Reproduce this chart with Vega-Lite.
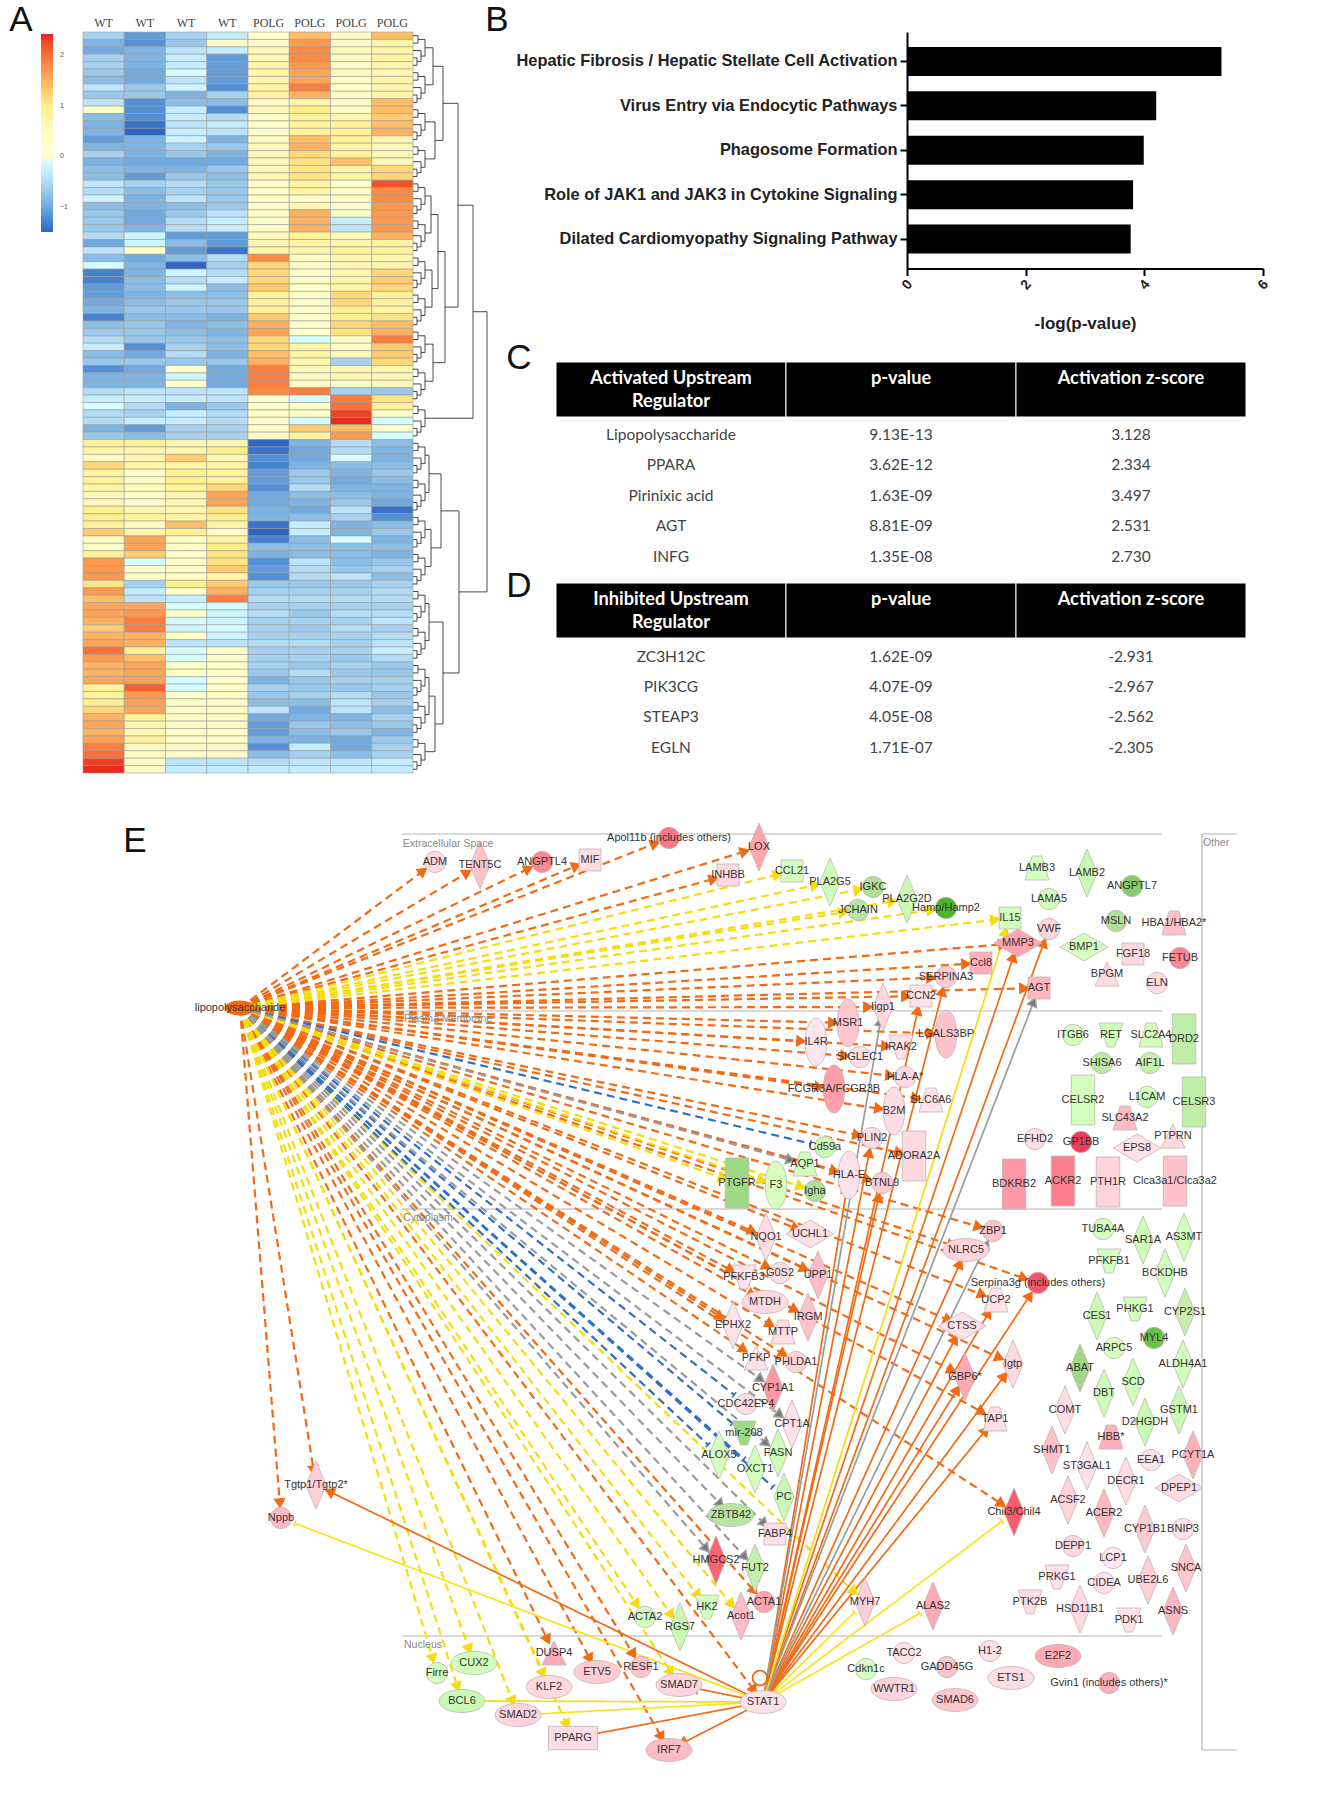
{"$schema":"https://vega.github.io/schema/vega-lite/v6.json","width":1328,"height":1800,"padding":0,"autosize":{"type":"none"},"background":"white","config":{"view":{"stroke":null},"axis":{"grid":false},"font":"Liberation Sans"},
"datasets":{
"heat":[
{"r":1,"c":1,"v":-0.6},{"r":1,"c":2,"v":-1.1},{"r":1,"c":3,"v":-0.6},{"r":1,"c":4,"v":-0.3},{"r":1,"c":5,"v":0.1},{"r":1,"c":6,"v":1.4},{"r":1,"c":7,"v":0.5},{"r":1,"c":8,"v":1.4},
{"r":2,"c":1,"v":-0.9},{"r":2,"c":2,"v":-1.2},{"r":2,"c":3,"v":-0.7},{"r":2,"c":4,"v":0.0},{"r":2,"c":5,"v":0.3},{"r":2,"c":6,"v":1.7},{"r":2,"c":7,"v":0.5},{"r":2,"c":8,"v":0.8},
{"r":3,"c":1,"v":-1.0},{"r":3,"c":2,"v":-0.9},{"r":3,"c":3,"v":-0.4},{"r":3,"c":4,"v":-0.3},{"r":3,"c":5,"v":0.6},{"r":3,"c":6,"v":1.8},{"r":3,"c":7,"v":0.6},{"r":3,"c":8,"v":0.8},
{"r":4,"c":1,"v":-0.6},{"r":4,"c":2,"v":-0.9},{"r":4,"c":3,"v":-0.3},{"r":4,"c":4,"v":-1.1},{"r":4,"c":5,"v":0.7},{"r":4,"c":6,"v":1.8},{"r":4,"c":7,"v":0.5},{"r":4,"c":8,"v":0.8},
{"r":5,"c":1,"v":-0.6},{"r":5,"c":2,"v":-0.9},{"r":5,"c":3,"v":-0.3},{"r":5,"c":4,"v":-1.1},{"r":5,"c":5,"v":0.7},{"r":5,"c":6,"v":1.7},{"r":5,"c":7,"v":0.5},{"r":5,"c":8,"v":0.7},
{"r":6,"c":1,"v":-0.7},{"r":6,"c":2,"v":-1.0},{"r":6,"c":3,"v":-0.1},{"r":6,"c":4,"v":-1.1},{"r":6,"c":5,"v":0.8},{"r":6,"c":6,"v":1.6},{"r":6,"c":7,"v":0.6},{"r":6,"c":8,"v":0.7},
{"r":7,"c":1,"v":-0.8},{"r":7,"c":2,"v":-1.0},{"r":7,"c":3,"v":-0.4},{"r":7,"c":4,"v":-1.1},{"r":7,"c":5,"v":0.7},{"r":7,"c":6,"v":1.6},{"r":7,"c":7,"v":0.5},{"r":7,"c":8,"v":0.8},
{"r":8,"c":1,"v":-0.4},{"r":8,"c":2,"v":-0.7},{"r":8,"c":3,"v":-0.2},{"r":8,"c":4,"v":-1.2},{"r":8,"c":5,"v":0.8},{"r":8,"c":6,"v":1.9},{"r":8,"c":7,"v":0.1},{"r":8,"c":8,"v":0.7},
{"r":9,"c":1,"v":-0.7},{"r":9,"c":2,"v":-0.7},{"r":9,"c":3,"v":-0.9},{"r":9,"c":4,"v":-0.6},{"r":9,"c":5,"v":0.9},{"r":9,"c":6,"v":1.5},{"r":9,"c":7,"v":0.3},{"r":9,"c":8,"v":0.8},
{"r":10,"c":1,"v":-0.4},{"r":10,"c":2,"v":-1.2},{"r":10,"c":3,"v":-0.8},{"r":10,"c":4,"v":-0.8},{"r":10,"c":5,"v":0.5},{"r":10,"c":6,"v":0.8},{"r":10,"c":7,"v":0.5},{"r":10,"c":8,"v":1.4},
{"r":11,"c":1,"v":0.0},{"r":11,"c":2,"v":-1.2},{"r":11,"c":3,"v":-0.3},{"r":11,"c":4,"v":-1.2},{"r":11,"c":5,"v":0.6},{"r":11,"c":6,"v":1.0},{"r":11,"c":7,"v":0.5},{"r":11,"c":8,"v":1.4},
{"r":12,"c":1,"v":-0.8},{"r":12,"c":2,"v":-1.2},{"r":12,"c":3,"v":-0.3},{"r":12,"c":4,"v":-0.5},{"r":12,"c":5,"v":0.2},{"r":12,"c":6,"v":0.9},{"r":12,"c":7,"v":0.7},{"r":12,"c":8,"v":1.3},
{"r":13,"c":1,"v":-0.9},{"r":13,"c":2,"v":-1.4},{"r":13,"c":3,"v":-0.4},{"r":13,"c":4,"v":-0.3},{"r":13,"c":5,"v":0.1},{"r":13,"c":6,"v":0.9},{"r":13,"c":7,"v":0.9},{"r":13,"c":8,"v":1.4},
{"r":14,"c":1,"v":-0.9},{"r":14,"c":2,"v":-1.5},{"r":14,"c":3,"v":-0.3},{"r":14,"c":4,"v":-0.4},{"r":14,"c":5,"v":0.3},{"r":14,"c":6,"v":0.9},{"r":14,"c":7,"v":0.9},{"r":14,"c":8,"v":1.5},
{"r":15,"c":1,"v":-1.1},{"r":15,"c":2,"v":-0.9},{"r":15,"c":3,"v":-0.2},{"r":15,"c":4,"v":-0.9},{"r":15,"c":5,"v":0.5},{"r":15,"c":6,"v":1.4},{"r":15,"c":7,"v":0.9},{"r":15,"c":8,"v":0.7},
{"r":16,"c":1,"v":-0.9},{"r":16,"c":2,"v":-0.9},{"r":16,"c":3,"v":-0.6},{"r":16,"c":4,"v":-0.7},{"r":16,"c":5,"v":0.6},{"r":16,"c":6,"v":1.5},{"r":16,"c":7,"v":0.8},{"r":16,"c":8,"v":0.6},
{"r":17,"c":1,"v":-0.6},{"r":17,"c":2,"v":-0.9},{"r":17,"c":3,"v":-0.7},{"r":17,"c":4,"v":-0.9},{"r":17,"c":5,"v":0.6},{"r":17,"c":6,"v":1.2},{"r":17,"c":7,"v":0.9},{"r":17,"c":8,"v":0.6},
{"r":18,"c":1,"v":-0.9},{"r":18,"c":2,"v":-1.0},{"r":18,"c":3,"v":-1.0},{"r":18,"c":4,"v":-1.0},{"r":18,"c":5,"v":0.6},{"r":18,"c":6,"v":1.1},{"r":18,"c":7,"v":1.4},{"r":18,"c":8,"v":0.6},
{"r":19,"c":1,"v":-0.8},{"r":19,"c":2,"v":-0.9},{"r":19,"c":3,"v":-0.9},{"r":19,"c":4,"v":-0.7},{"r":19,"c":5,"v":0.6},{"r":19,"c":6,"v":1.1},{"r":19,"c":7,"v":0.8},{"r":19,"c":8,"v":1.2},
{"r":20,"c":1,"v":-0.8},{"r":20,"c":2,"v":-1.1},{"r":20,"c":3,"v":-0.7},{"r":20,"c":4,"v":-0.8},{"r":20,"c":5,"v":0.7},{"r":20,"c":6,"v":1.1},{"r":20,"c":7,"v":0.8},{"r":20,"c":8,"v":1.2},
{"r":21,"c":1,"v":-0.4},{"r":21,"c":2,"v":-0.6},{"r":21,"c":3,"v":-0.5},{"r":21,"c":4,"v":-0.7},{"r":21,"c":5,"v":0.2},{"r":21,"c":6,"v":0.8},{"r":21,"c":7,"v":0.1},{"r":21,"c":8,"v":2.2},
{"r":22,"c":1,"v":-0.5},{"r":22,"c":2,"v":-0.8},{"r":22,"c":3,"v":-0.6},{"r":22,"c":4,"v":-0.7},{"r":22,"c":5,"v":0.3},{"r":22,"c":6,"v":0.8},{"r":22,"c":7,"v":0.3},{"r":22,"c":8,"v":1.8},
{"r":23,"c":1,"v":-0.2},{"r":23,"c":2,"v":-0.9},{"r":23,"c":3,"v":-0.4},{"r":23,"c":4,"v":-0.7},{"r":23,"c":5,"v":0.4},{"r":23,"c":6,"v":0.5},{"r":23,"c":7,"v":0.3},{"r":23,"c":8,"v":1.8},
{"r":24,"c":1,"v":-0.8},{"r":24,"c":2,"v":-0.9},{"r":24,"c":3,"v":-0.8},{"r":24,"c":4,"v":-0.7},{"r":24,"c":5,"v":0.4},{"r":24,"c":6,"v":0.7},{"r":24,"c":7,"v":0.3},{"r":24,"c":8,"v":1.7},
{"r":25,"c":1,"v":-0.7},{"r":25,"c":2,"v":-1.0},{"r":25,"c":3,"v":-0.7},{"r":25,"c":4,"v":-0.4},{"r":25,"c":5,"v":0.1},{"r":25,"c":6,"v":1.5},{"r":25,"c":7,"v":0.1},{"r":25,"c":8,"v":1.7},
{"r":26,"c":1,"v":-0.7},{"r":26,"c":2,"v":-1.0},{"r":26,"c":3,"v":-0.5},{"r":26,"c":4,"v":-0.3},{"r":26,"c":5,"v":0.2},{"r":26,"c":6,"v":1.5},{"r":26,"c":7,"v":-0.3},{"r":26,"c":8,"v":1.7},
{"r":27,"c":1,"v":-0.7},{"r":27,"c":2,"v":-0.9},{"r":27,"c":3,"v":-0.5},{"r":27,"c":4,"v":-0.3},{"r":27,"c":5,"v":0.3},{"r":27,"c":6,"v":1.5},{"r":27,"c":7,"v":-0.4},{"r":27,"c":8,"v":1.7},
{"r":28,"c":1,"v":-0.5},{"r":28,"c":2,"v":-0.2},{"r":28,"c":3,"v":-1.1},{"r":28,"c":4,"v":-1.1},{"r":28,"c":5,"v":0.6},{"r":28,"c":6,"v":0.9},{"r":28,"c":7,"v":0.6},{"r":28,"c":8,"v":1.5},
{"r":29,"c":1,"v":-1.0},{"r":29,"c":2,"v":-0.2},{"r":29,"c":3,"v":-0.8},{"r":29,"c":4,"v":-1.1},{"r":29,"c":5,"v":0.7},{"r":29,"c":6,"v":0.8},{"r":29,"c":7,"v":0.7},{"r":29,"c":8,"v":0.8},
{"r":30,"c":1,"v":-0.4},{"r":30,"c":2,"v":0.0},{"r":30,"c":3,"v":-1.1},{"r":30,"c":4,"v":-1.4},{"r":30,"c":5,"v":0.8},{"r":30,"c":6,"v":0.7},{"r":30,"c":7,"v":0.9},{"r":30,"c":8,"v":0.9},
{"r":31,"c":1,"v":-0.8},{"r":31,"c":2,"v":-1.0},{"r":31,"c":3,"v":-0.8},{"r":31,"c":4,"v":-0.5},{"r":31,"c":5,"v":1.8},{"r":31,"c":6,"v":0.4},{"r":31,"c":7,"v":0.7},{"r":31,"c":8,"v":0.7},
{"r":32,"c":1,"v":-0.1},{"r":32,"c":2,"v":-0.9},{"r":32,"c":3,"v":-1.5},{"r":32,"c":4,"v":-0.6},{"r":32,"c":5,"v":1.2},{"r":32,"c":6,"v":0.5},{"r":32,"c":7,"v":0.7},{"r":32,"c":8,"v":0.7},
{"r":33,"c":1,"v":-1.3},{"r":33,"c":2,"v":-0.9},{"r":33,"c":3,"v":-0.2},{"r":33,"c":4,"v":-0.5},{"r":33,"c":5,"v":1.2},{"r":33,"c":6,"v":0.5},{"r":33,"c":7,"v":0.7},{"r":33,"c":8,"v":1.2},
{"r":34,"c":1,"v":-1.3},{"r":34,"c":2,"v":-0.8},{"r":34,"c":3,"v":-0.5},{"r":34,"c":4,"v":-0.3},{"r":34,"c":5,"v":1.2},{"r":34,"c":6,"v":0.4},{"r":34,"c":7,"v":0.8},{"r":34,"c":8,"v":1.3},
{"r":35,"c":1,"v":-1.1},{"r":35,"c":2,"v":-0.8},{"r":35,"c":3,"v":-0.2},{"r":35,"c":4,"v":-0.8},{"r":35,"c":5,"v":1.3},{"r":35,"c":6,"v":0.1},{"r":35,"c":7,"v":0.8},{"r":35,"c":8,"v":1.2},
{"r":36,"c":1,"v":-1.1},{"r":36,"c":2,"v":-0.9},{"r":36,"c":3,"v":-0.8},{"r":36,"c":4,"v":-0.8},{"r":36,"c":5,"v":0.9},{"r":36,"c":6,"v":0.2},{"r":36,"c":7,"v":1.2},{"r":36,"c":8,"v":0.9},
{"r":37,"c":1,"v":-1.0},{"r":37,"c":2,"v":-0.8},{"r":37,"c":3,"v":-0.7},{"r":37,"c":4,"v":-0.7},{"r":37,"c":5,"v":0.9},{"r":37,"c":6,"v":0.3},{"r":37,"c":7,"v":1.2},{"r":37,"c":8,"v":0.9},
{"r":38,"c":1,"v":-0.9},{"r":38,"c":2,"v":-0.7},{"r":38,"c":3,"v":-0.7},{"r":38,"c":4,"v":-0.7},{"r":38,"c":5,"v":0.9},{"r":38,"c":6,"v":0.3},{"r":38,"c":7,"v":1.0},{"r":38,"c":8,"v":0.8},
{"r":39,"c":1,"v":-1.3},{"r":39,"c":2,"v":-0.8},{"r":39,"c":3,"v":-0.8},{"r":39,"c":4,"v":-0.9},{"r":39,"c":5,"v":1.3},{"r":39,"c":6,"v":0.1},{"r":39,"c":7,"v":1.0},{"r":39,"c":8,"v":1.1},
{"r":40,"c":1,"v":-0.8},{"r":40,"c":2,"v":-0.7},{"r":40,"c":3,"v":-0.9},{"r":40,"c":4,"v":-0.8},{"r":40,"c":5,"v":1.5},{"r":40,"c":6,"v":0.2},{"r":40,"c":7,"v":1.2},{"r":40,"c":8,"v":1.4},
{"r":41,"c":1,"v":-0.7},{"r":41,"c":2,"v":-0.7},{"r":41,"c":3,"v":-0.8},{"r":41,"c":4,"v":-0.9},{"r":41,"c":5,"v":1.6},{"r":41,"c":6,"v":0.1},{"r":41,"c":7,"v":1.1},{"r":41,"c":8,"v":1.5},
{"r":42,"c":1,"v":-0.5},{"r":42,"c":2,"v":-0.7},{"r":42,"c":3,"v":-0.7},{"r":42,"c":4,"v":-0.8},{"r":42,"c":5,"v":1.2},{"r":42,"c":6,"v":-0.1},{"r":42,"c":7,"v":0.3},{"r":42,"c":8,"v":1.9},
{"r":43,"c":1,"v":-0.3},{"r":43,"c":2,"v":-1.2},{"r":43,"c":3,"v":-0.6},{"r":43,"c":4,"v":-0.8},{"r":43,"c":5,"v":1.2},{"r":43,"c":6,"v":0.8},{"r":43,"c":7,"v":0.2},{"r":43,"c":8,"v":1.3},
{"r":44,"c":1,"v":-0.8},{"r":44,"c":2,"v":-1.0},{"r":44,"c":3,"v":-0.5},{"r":44,"c":4,"v":-0.9},{"r":44,"c":5,"v":1.4},{"r":44,"c":6,"v":0.8},{"r":44,"c":7,"v":0.6},{"r":44,"c":8,"v":1.3},
{"r":45,"c":1,"v":-0.7},{"r":45,"c":2,"v":-0.7},{"r":45,"c":3,"v":-0.7},{"r":45,"c":4,"v":-0.7},{"r":45,"c":5,"v":1.5},{"r":45,"c":6,"v":0.7},{"r":45,"c":7,"v":-0.6},{"r":45,"c":8,"v":1.2},
{"r":46,"c":1,"v":-1.2},{"r":46,"c":2,"v":-1.0},{"r":46,"c":3,"v":0.0},{"r":46,"c":4,"v":-1.0},{"r":46,"c":5,"v":1.9},{"r":46,"c":6,"v":0.6},{"r":46,"c":7,"v":0.7},{"r":46,"c":8,"v":0.7},
{"r":47,"c":1,"v":-0.9},{"r":47,"c":2,"v":-0.9},{"r":47,"c":3,"v":-0.2},{"r":47,"c":4,"v":-1.0},{"r":47,"c":5,"v":1.9},{"r":47,"c":6,"v":0.5},{"r":47,"c":7,"v":0.7},{"r":47,"c":8,"v":0.7},
{"r":48,"c":1,"v":-0.9},{"r":48,"c":2,"v":-0.9},{"r":48,"c":3,"v":0.0},{"r":48,"c":4,"v":-1.0},{"r":48,"c":5,"v":1.9},{"r":48,"c":6,"v":0.4},{"r":48,"c":7,"v":0.5},{"r":48,"c":8,"v":0.6},
{"r":49,"c":1,"v":-0.5},{"r":49,"c":2,"v":-0.4},{"r":49,"c":3,"v":-0.4},{"r":49,"c":4,"v":-0.4},{"r":49,"c":5,"v":1.8},{"r":49,"c":6,"v":1.9},{"r":49,"c":7,"v":-0.6},{"r":49,"c":8,"v":-0.7},
{"r":50,"c":1,"v":-0.3},{"r":50,"c":2,"v":-0.3},{"r":50,"c":3,"v":-0.3},{"r":50,"c":4,"v":-0.4},{"r":50,"c":5,"v":0.0},{"r":50,"c":6,"v":-0.1},{"r":50,"c":7,"v":1.9},{"r":50,"c":8,"v":1.1},
{"r":51,"c":1,"v":-0.1},{"r":51,"c":2,"v":-0.5},{"r":51,"c":3,"v":-0.9},{"r":51,"c":4,"v":-0.7},{"r":51,"c":5,"v":0.0},{"r":51,"c":6,"v":0.3},{"r":51,"c":7,"v":2.0},{"r":51,"c":8,"v":0.9},
{"r":52,"c":1,"v":-0.5},{"r":52,"c":2,"v":-0.6},{"r":52,"c":3,"v":-0.3},{"r":52,"c":4,"v":-0.5},{"r":52,"c":5,"v":0.3},{"r":52,"c":6,"v":0.0},{"r":52,"c":7,"v":2.3},{"r":52,"c":8,"v":0.0},
{"r":53,"c":1,"v":-0.5},{"r":53,"c":2,"v":-0.3},{"r":53,"c":3,"v":-0.3},{"r":53,"c":4,"v":-0.5},{"r":53,"c":5,"v":0.3},{"r":53,"c":6,"v":-0.1},{"r":53,"c":7,"v":2.4},{"r":53,"c":8,"v":-0.1},
{"r":54,"c":1,"v":-0.9},{"r":54,"c":2,"v":-1.1},{"r":54,"c":3,"v":-0.6},{"r":54,"c":4,"v":-0.6},{"r":54,"c":5,"v":0.5},{"r":54,"c":6,"v":1.3},{"r":54,"c":7,"v":1.4},{"r":54,"c":8,"v":0.0},
{"r":55,"c":1,"v":-0.7},{"r":55,"c":2,"v":-0.8},{"r":55,"c":3,"v":-0.6},{"r":55,"c":4,"v":-0.6},{"r":55,"c":5,"v":0.3},{"r":55,"c":6,"v":0.9},{"r":55,"c":7,"v":1.7},{"r":55,"c":8,"v":-0.1},
{"r":56,"c":1,"v":0.9},{"r":56,"c":2,"v":0.9},{"r":56,"c":3,"v":0.7},{"r":56,"c":4,"v":0.7},{"r":56,"c":5,"v":-1.5},{"r":56,"c":6,"v":-0.9},{"r":56,"c":7,"v":-0.5},{"r":56,"c":8,"v":-0.8},
{"r":57,"c":1,"v":0.8},{"r":57,"c":2,"v":0.7},{"r":57,"c":3,"v":0.7},{"r":57,"c":4,"v":1.0},{"r":57,"c":5,"v":-1.4},{"r":57,"c":6,"v":-1.0},{"r":57,"c":7,"v":-0.5},{"r":57,"c":8,"v":-0.9},
{"r":58,"c":1,"v":0.5},{"r":58,"c":2,"v":0.7},{"r":58,"c":3,"v":1.3},{"r":58,"c":4,"v":0.7},{"r":58,"c":5,"v":-1.2},{"r":58,"c":6,"v":-1.0},{"r":58,"c":7,"v":-0.1},{"r":58,"c":8,"v":-0.9},
{"r":59,"c":1,"v":1.2},{"r":59,"c":2,"v":0.8},{"r":59,"c":3,"v":0.8},{"r":59,"c":4,"v":0.8},{"r":59,"c":5,"v":-1.3},{"r":59,"c":6,"v":-0.9},{"r":59,"c":7,"v":-0.8},{"r":59,"c":8,"v":-0.8},
{"r":60,"c":1,"v":0.9},{"r":60,"c":2,"v":0.5},{"r":60,"c":3,"v":1.0},{"r":60,"c":4,"v":0.9},{"r":60,"c":5,"v":-1.1},{"r":60,"c":6,"v":-0.7},{"r":60,"c":7,"v":-0.9},{"r":60,"c":8,"v":-0.7},
{"r":61,"c":1,"v":0.9},{"r":61,"c":2,"v":0.5},{"r":61,"c":3,"v":1.0},{"r":61,"c":4,"v":0.9},{"r":61,"c":5,"v":-1.1},{"r":61,"c":6,"v":-0.7},{"r":61,"c":7,"v":-1.0},{"r":61,"c":8,"v":-0.8},
{"r":62,"c":1,"v":0.8},{"r":62,"c":2,"v":0.6},{"r":62,"c":3,"v":0.9},{"r":62,"c":4,"v":1.2},{"r":62,"c":5,"v":-1.2},{"r":62,"c":6,"v":-0.5},{"r":62,"c":7,"v":-0.9},{"r":62,"c":8,"v":-0.9},
{"r":63,"c":1,"v":0.6},{"r":63,"c":2,"v":0.4},{"r":63,"c":3,"v":0.7},{"r":63,"c":4,"v":1.6},{"r":63,"c":5,"v":-1.0},{"r":63,"c":6,"v":-0.8},{"r":63,"c":7,"v":-0.8},{"r":63,"c":8,"v":-0.9},
{"r":64,"c":1,"v":0.6},{"r":64,"c":2,"v":0.4},{"r":64,"c":3,"v":0.7},{"r":64,"c":4,"v":1.6},{"r":64,"c":5,"v":-1.0},{"r":64,"c":6,"v":-0.9},{"r":64,"c":7,"v":-0.7},{"r":64,"c":8,"v":-1.0},
{"r":65,"c":1,"v":1.0},{"r":65,"c":2,"v":0.7},{"r":65,"c":3,"v":0.7},{"r":65,"c":4,"v":1.1},{"r":65,"c":5,"v":-0.9},{"r":65,"c":6,"v":-1.0},{"r":65,"c":7,"v":-0.4},{"r":65,"c":8,"v":-1.4},
{"r":66,"c":1,"v":1.0},{"r":66,"c":2,"v":0.9},{"r":66,"c":3,"v":0.8},{"r":66,"c":4,"v":1.0},{"r":66,"c":5,"v":-0.9},{"r":66,"c":6,"v":-0.8},{"r":66,"c":7,"v":-0.6},{"r":66,"c":8,"v":-1.2},
{"r":67,"c":1,"v":0.9},{"r":67,"c":2,"v":0.5},{"r":67,"c":3,"v":1.4},{"r":67,"c":4,"v":0.8},{"r":67,"c":5,"v":-1.4},{"r":67,"c":6,"v":-0.3},{"r":67,"c":7,"v":-0.9},{"r":67,"c":8,"v":-0.8},
{"r":68,"c":1,"v":1.3},{"r":68,"c":2,"v":0.8},{"r":68,"c":3,"v":1.0},{"r":68,"c":4,"v":0.5},{"r":68,"c":5,"v":-1.5},{"r":68,"c":6,"v":-0.3},{"r":68,"c":7,"v":-0.9},{"r":68,"c":8,"v":-0.7},
{"r":69,"c":1,"v":0.3},{"r":69,"c":2,"v":1.6},{"r":69,"c":3,"v":0.0},{"r":69,"c":4,"v":0.8},{"r":69,"c":5,"v":-1.3},{"r":69,"c":6,"v":-0.8},{"r":69,"c":7,"v":-0.1},{"r":69,"c":8,"v":-0.9},
{"r":70,"c":1,"v":0.2},{"r":70,"c":2,"v":1.6},{"r":70,"c":3,"v":0.2},{"r":70,"c":4,"v":1.0},{"r":70,"c":5,"v":-0.8},{"r":70,"c":6,"v":-0.8},{"r":70,"c":7,"v":-0.8},{"r":70,"c":8,"v":-0.8},
{"r":71,"c":1,"v":0.9},{"r":71,"c":2,"v":1.3},{"r":71,"c":3,"v":0.1},{"r":71,"c":4,"v":1.1},{"r":71,"c":5,"v":-0.9},{"r":71,"c":6,"v":-0.8},{"r":71,"c":7,"v":-0.8},{"r":71,"c":8,"v":-0.9},
{"r":72,"c":1,"v":1.7},{"r":72,"c":2,"v":-0.1},{"r":72,"c":3,"v":0.3},{"r":72,"c":4,"v":1.1},{"r":72,"c":5,"v":-1.2},{"r":72,"c":6,"v":-0.4},{"r":72,"c":7,"v":-0.8},{"r":72,"c":8,"v":-0.7},
{"r":73,"c":1,"v":1.7},{"r":73,"c":2,"v":0.1},{"r":73,"c":3,"v":0.3},{"r":73,"c":4,"v":1.3},{"r":73,"c":5,"v":-1.1},{"r":73,"c":6,"v":-0.5},{"r":73,"c":7,"v":-0.7},{"r":73,"c":8,"v":-0.6},
{"r":74,"c":1,"v":1.7},{"r":74,"c":2,"v":0.2},{"r":74,"c":3,"v":0.3},{"r":74,"c":4,"v":0.8},{"r":74,"c":5,"v":-1.2},{"r":74,"c":6,"v":-0.5},{"r":74,"c":7,"v":-0.4},{"r":74,"c":8,"v":-0.8},
{"r":75,"c":1,"v":1.1},{"r":75,"c":2,"v":-0.6},{"r":75,"c":3,"v":1.0},{"r":75,"c":4,"v":1.3},{"r":75,"c":5,"v":-0.7},{"r":75,"c":6,"v":-0.7},{"r":75,"c":7,"v":-0.7},{"r":75,"c":8,"v":-0.6},
{"r":76,"c":1,"v":1.7},{"r":76,"c":2,"v":-0.3},{"r":76,"c":3,"v":0.0},{"r":76,"c":4,"v":1.5},{"r":76,"c":5,"v":-0.6},{"r":76,"c":6,"v":-0.6},{"r":76,"c":7,"v":-0.6},{"r":76,"c":8,"v":-0.5},
{"r":77,"c":1,"v":1.4},{"r":77,"c":2,"v":-0.4},{"r":77,"c":3,"v":-0.3},{"r":77,"c":4,"v":1.9},{"r":77,"c":5,"v":-0.5},{"r":77,"c":6,"v":-0.5},{"r":77,"c":7,"v":-0.5},{"r":77,"c":8,"v":-0.5},
{"r":78,"c":1,"v":1.6},{"r":78,"c":2,"v":1.6},{"r":78,"c":3,"v":-0.1},{"r":78,"c":4,"v":-0.1},{"r":78,"c":5,"v":-0.6},{"r":78,"c":6,"v":-0.6},{"r":78,"c":7,"v":-0.6},{"r":78,"c":8,"v":-0.6},
{"r":79,"c":1,"v":1.6},{"r":79,"c":2,"v":1.7},{"r":79,"c":3,"v":0.0},{"r":79,"c":4,"v":-0.2},{"r":79,"c":5,"v":-0.5},{"r":79,"c":6,"v":-0.7},{"r":79,"c":7,"v":-0.5},{"r":79,"c":8,"v":-0.5},
{"r":80,"c":1,"v":1.5},{"r":80,"c":2,"v":1.9},{"r":80,"c":3,"v":-0.1},{"r":80,"c":4,"v":-0.2},{"r":80,"c":5,"v":-0.6},{"r":80,"c":6,"v":-0.6},{"r":80,"c":7,"v":-0.6},{"r":80,"c":8,"v":-0.4},
{"r":81,"c":1,"v":1.3},{"r":81,"c":2,"v":1.9},{"r":81,"c":3,"v":-0.2},{"r":81,"c":4,"v":-0.1},{"r":81,"c":5,"v":-0.6},{"r":81,"c":6,"v":-0.7},{"r":81,"c":7,"v":-0.5},{"r":81,"c":8,"v":-0.6},
{"r":82,"c":1,"v":1.5},{"r":82,"c":2,"v":1.5},{"r":82,"c":3,"v":0.2},{"r":82,"c":4,"v":-0.2},{"r":82,"c":5,"v":-0.6},{"r":82,"c":6,"v":-0.6},{"r":82,"c":7,"v":-0.6},{"r":82,"c":8,"v":-0.5},
{"r":83,"c":1,"v":1.6},{"r":83,"c":2,"v":1.5},{"r":83,"c":3,"v":-0.4},{"r":83,"c":4,"v":-0.4},{"r":83,"c":5,"v":-0.5},{"r":83,"c":6,"v":-0.5},{"r":83,"c":7,"v":-0.6},{"r":83,"c":8,"v":-0.4},
{"r":84,"c":1,"v":2.0},{"r":84,"c":2,"v":0.9},{"r":84,"c":3,"v":-0.1},{"r":84,"c":4,"v":0.0},{"r":84,"c":5,"v":-0.6},{"r":84,"c":6,"v":-0.6},{"r":84,"c":7,"v":-0.6},{"r":84,"c":8,"v":-0.3},
{"r":85,"c":1,"v":1.7},{"r":85,"c":2,"v":1.4},{"r":85,"c":3,"v":-0.1},{"r":85,"c":4,"v":0.0},{"r":85,"c":5,"v":-0.6},{"r":85,"c":6,"v":-0.6},{"r":85,"c":7,"v":-0.7},{"r":85,"c":8,"v":-0.5},
{"r":86,"c":1,"v":1.5},{"r":86,"c":2,"v":1.6},{"r":86,"c":3,"v":0.0},{"r":86,"c":4,"v":0.0},{"r":86,"c":5,"v":-0.6},{"r":86,"c":6,"v":-0.7},{"r":86,"c":7,"v":-0.6},{"r":86,"c":8,"v":-0.7},
{"r":87,"c":1,"v":1.5},{"r":87,"c":2,"v":1.6},{"r":87,"c":3,"v":0.0},{"r":87,"c":4,"v":0.0},{"r":87,"c":5,"v":-0.7},{"r":87,"c":6,"v":-0.5},{"r":87,"c":7,"v":-0.7},{"r":87,"c":8,"v":-0.7},
{"r":88,"c":1,"v":1.6},{"r":88,"c":2,"v":1.6},{"r":88,"c":3,"v":-0.1},{"r":88,"c":4,"v":0.0},{"r":88,"c":5,"v":-0.9},{"r":88,"c":6,"v":-0.7},{"r":88,"c":7,"v":-0.6},{"r":88,"c":8,"v":-0.6},
{"r":89,"c":1,"v":0.9},{"r":89,"c":2,"v":2.1},{"r":89,"c":3,"v":-0.1},{"r":89,"c":4,"v":0.0},{"r":89,"c":5,"v":-0.6},{"r":89,"c":6,"v":-0.7},{"r":89,"c":7,"v":-0.7},{"r":89,"c":8,"v":-0.6},
{"r":90,"c":1,"v":0.9},{"r":90,"c":2,"v":1.7},{"r":90,"c":3,"v":0.1},{"r":90,"c":4,"v":0.5},{"r":90,"c":5,"v":-0.7},{"r":90,"c":6,"v":-0.6},{"r":90,"c":7,"v":-0.5},{"r":90,"c":8,"v":-0.7},
{"r":91,"c":1,"v":1.0},{"r":91,"c":2,"v":1.6},{"r":91,"c":3,"v":0.0},{"r":91,"c":4,"v":0.5},{"r":91,"c":5,"v":-0.8},{"r":91,"c":6,"v":-0.8},{"r":91,"c":7,"v":-0.4},{"r":91,"c":8,"v":-0.6},
{"r":92,"c":1,"v":1.2},{"r":92,"c":2,"v":1.6},{"r":92,"c":3,"v":0.0},{"r":92,"c":4,"v":0.4},{"r":92,"c":5,"v":-0.4},{"r":92,"c":6,"v":-1.0},{"r":92,"c":7,"v":-0.4},{"r":92,"c":8,"v":-0.8},
{"r":93,"c":1,"v":1.5},{"r":93,"c":2,"v":0.9},{"r":93,"c":3,"v":0.3},{"r":93,"c":4,"v":0.5},{"r":93,"c":5,"v":-1.0},{"r":93,"c":6,"v":-0.9},{"r":93,"c":7,"v":-0.9},{"r":93,"c":8,"v":-0.6},
{"r":94,"c":1,"v":1.6},{"r":94,"c":2,"v":0.7},{"r":94,"c":3,"v":0.4},{"r":94,"c":4,"v":0.5},{"r":94,"c":5,"v":-1.1},{"r":94,"c":6,"v":-0.7},{"r":94,"c":7,"v":-0.8},{"r":94,"c":8,"v":-0.7},
{"r":95,"c":1,"v":1.5},{"r":95,"c":2,"v":0.7},{"r":95,"c":3,"v":0.4},{"r":95,"c":4,"v":0.5},{"r":95,"c":5,"v":-1.1},{"r":95,"c":6,"v":-0.8},{"r":95,"c":7,"v":-0.7},{"r":95,"c":8,"v":-0.9},
{"r":96,"c":1,"v":1.6},{"r":96,"c":2,"v":0.9},{"r":96,"c":3,"v":0.4},{"r":96,"c":4,"v":0.4},{"r":96,"c":5,"v":-0.9},{"r":96,"c":6,"v":-0.9},{"r":96,"c":7,"v":-1.0},{"r":96,"c":8,"v":-0.7},
{"r":97,"c":1,"v":1.9},{"r":97,"c":2,"v":0.5},{"r":97,"c":3,"v":0.4},{"r":97,"c":4,"v":0.5},{"r":97,"c":5,"v":-1.2},{"r":97,"c":6,"v":-0.3},{"r":97,"c":7,"v":-1.0},{"r":97,"c":8,"v":-0.6},
{"r":98,"c":1,"v":2.0},{"r":98,"c":2,"v":0.5},{"r":98,"c":3,"v":0.4},{"r":98,"c":4,"v":0.5},{"r":98,"c":5,"v":-0.8},{"r":98,"c":6,"v":-0.6},{"r":98,"c":7,"v":-0.8},{"r":98,"c":8,"v":-0.6},
{"r":99,"c":1,"v":2.3},{"r":99,"c":2,"v":0.5},{"r":99,"c":3,"v":-0.4},{"r":99,"c":4,"v":-0.4},{"r":99,"c":5,"v":-0.5},{"r":99,"c":6,"v":-0.4},{"r":99,"c":7,"v":-0.4},{"r":99,"c":8,"v":-0.3},
{"r":100,"c":1,"v":2.4},{"r":100,"c":2,"v":0.5},{"r":100,"c":3,"v":-0.3},{"r":100,"c":4,"v":-0.3},{"r":100,"c":5,"v":-0.3},{"r":100,"c":6,"v":-0.3},{"r":100,"c":7,"v":-0.3},{"r":100,"c":8,"v":-0.3}
],
"dendro":[
{"a":0.5,"b":1.5,"h":5,"p":0,"q":0},{"a":3.5,"b":4.5,"h":4,"p":0,"q":0},{"a":2.5,"b":4,"h":8,"p":0,"q":4},{"a":1,"b":3.25,"h":12,"p":5,"q":8},
{"a":5.5,"b":6.5,"h":5,"p":0,"q":0},{"a":8.5,"b":9.5,"h":4,"p":0,"q":0},{"a":7.5,"b":9,"h":8,"p":0,"q":4},{"a":6,"b":8.25,"h":12,"p":5,"q":8},
{"a":10.5,"b":11.5,"h":5,"p":0,"q":0},{"a":13.5,"b":14.5,"h":4,"p":0,"q":0},{"a":12.5,"b":14,"h":8,"p":0,"q":4},{"a":11,"b":13.25,"h":12,"p":5,"q":8},
{"a":15.5,"b":16.5,"h":5,"p":0,"q":0},{"a":18.5,"b":19.5,"h":4,"p":0,"q":0},{"a":17.5,"b":19,"h":8,"p":0,"q":4},{"a":16,"b":18.25,"h":12,"p":5,"q":8},
{"a":20.5,"b":21.5,"h":5,"p":0,"q":0},{"a":23.5,"b":24.5,"h":4,"p":0,"q":0},{"a":22.5,"b":24,"h":8,"p":0,"q":4},{"a":21,"b":23.25,"h":12,"p":5,"q":8},
{"a":25.5,"b":26.5,"h":5,"p":0,"q":0},{"a":28.5,"b":29.5,"h":4,"p":0,"q":0},{"a":27.5,"b":29,"h":8,"p":0,"q":4},{"a":26,"b":28.25,"h":12,"p":5,"q":8},
{"a":30.5,"b":31.5,"h":5,"p":0,"q":0},{"a":33.5,"b":34.5,"h":4,"p":0,"q":0},{"a":32.5,"b":34,"h":8,"p":0,"q":4},{"a":31,"b":33.25,"h":12,"p":5,"q":8},
{"a":35.5,"b":36.5,"h":5,"p":0,"q":0},{"a":38.5,"b":39.5,"h":4,"p":0,"q":0},{"a":37.5,"b":39,"h":8,"p":0,"q":4},{"a":36,"b":38.25,"h":12,"p":5,"q":8},
{"a":40.5,"b":41.5,"h":5,"p":0,"q":0},{"a":43.5,"b":44.5,"h":4,"p":0,"q":0},{"a":42.5,"b":44,"h":8,"p":0,"q":4},{"a":41,"b":43.25,"h":12,"p":5,"q":8},
{"a":45.5,"b":46.5,"h":5,"p":0,"q":0},{"a":48.5,"b":49.5,"h":4,"p":0,"q":0},{"a":47.5,"b":49,"h":8,"p":0,"q":4},{"a":46,"b":48.25,"h":12,"p":5,"q":8},
{"a":50.5,"b":51.5,"h":5,"p":0,"q":0},{"a":53.5,"b":54.5,"h":4,"p":0,"q":0},{"a":52.5,"b":54,"h":8,"p":0,"q":4},{"a":51,"b":53.25,"h":12,"p":5,"q":8},
{"a":55.5,"b":56.5,"h":5,"p":0,"q":0},{"a":58.5,"b":59.5,"h":4,"p":0,"q":0},{"a":57.5,"b":59,"h":8,"p":0,"q":4},{"a":56,"b":58.25,"h":12,"p":5,"q":8},
{"a":60.5,"b":61.5,"h":5,"p":0,"q":0},{"a":63.5,"b":64.5,"h":4,"p":0,"q":0},{"a":62.5,"b":64,"h":8,"p":0,"q":4},{"a":61,"b":63.25,"h":12,"p":5,"q":8},
{"a":65.5,"b":66.5,"h":5,"p":0,"q":0},{"a":68.5,"b":69.5,"h":4,"p":0,"q":0},{"a":67.5,"b":69,"h":8,"p":0,"q":4},{"a":66,"b":68.25,"h":12,"p":5,"q":8},
{"a":70.5,"b":71.5,"h":5,"p":0,"q":0},{"a":73.5,"b":74.5,"h":4,"p":0,"q":0},{"a":72.5,"b":74,"h":8,"p":0,"q":4},{"a":71,"b":73.25,"h":12,"p":5,"q":8},
{"a":75.5,"b":76.5,"h":5,"p":0,"q":0},{"a":78.5,"b":79.5,"h":4,"p":0,"q":0},{"a":77.5,"b":79,"h":8,"p":0,"q":4},{"a":76,"b":78.25,"h":12,"p":5,"q":8},
{"a":80.5,"b":81.5,"h":5,"p":0,"q":0},{"a":83.5,"b":84.5,"h":4,"p":0,"q":0},{"a":82.5,"b":84,"h":8,"p":0,"q":4},{"a":81,"b":83.25,"h":12,"p":5,"q":8},
{"a":85.5,"b":86.5,"h":5,"p":0,"q":0},{"a":88.5,"b":89.5,"h":4,"p":0,"q":0},{"a":87.5,"b":89,"h":8,"p":0,"q":4},{"a":86,"b":88.25,"h":12,"p":5,"q":8},
{"a":90.5,"b":91.5,"h":5,"p":0,"q":0},{"a":93.5,"b":94.5,"h":4,"p":0,"q":0},{"a":92.5,"b":94,"h":8,"p":0,"q":4},{"a":91,"b":93.25,"h":12,"p":5,"q":8},
{"a":95.5,"b":96.5,"h":5,"p":0,"q":0},{"a":98.5,"b":99.5,"h":4,"p":0,"q":0},{"a":97.5,"b":99,"h":8,"p":0,"q":4},{"a":96,"b":98.25,"h":12,"p":5,"q":8},
{"a":2.125,"b":7.125,"h":20,"p":12,"q":12},{"a":12.125,"b":17.125,"h":22,"p":12,"q":12},{"a":4.625,"b":14.625,"h":30,"p":20,"q":22},
{"a":22.125,"b":27.125,"h":18,"p":12,"q":12},{"a":32.125,"b":37.125,"h":19,"p":12,"q":12},{"a":42.125,"b":47.125,"h":20,"p":12,"q":12},
{"a":24.625,"b":34.625,"h":25,"p":18,"q":19},{"a":29.625,"b":44.625,"h":32,"p":25,"q":20},{"a":9.625,"b":37.125,"h":45,"p":30,"q":32},{"a":23.375,"b":52.125,"h":60,"p":45,"q":12},
{"a":57.125,"b":62.125,"h":16,"p":12,"q":12},{"a":67.125,"b":72.125,"h":18,"p":12,"q":12},{"a":59.625,"b":69.625,"h":28,"p":16,"q":18},
{"a":77.125,"b":82.125,"h":16,"p":12,"q":12},{"a":87.125,"b":92.125,"h":16,"p":12,"q":12},{"a":89.625,"b":97.125,"h":22,"p":16,"q":12},
{"a":79.625,"b":93.375,"h":30,"p":16,"q":22},{"a":64.625,"b":86.5,"h":46,"p":28,"q":30},{"a":37.75,"b":75.56,"h":74,"p":60,"q":46}
],
"paths":[
{"pathway":"Hepatic Fibrosis / Hepatic Stellate Cell Activation","score":5.3},
{"pathway":"Virus Entry via Endocytic Pathways","score":4.2},
{"pathway":"Phagosome Formation","score":3.99},
{"pathway":"Role of JAK1 and JAK3 in Cytokine Signaling","score":3.81},
{"pathway":"Dilated Cardiomyopathy Signaling Pathway","score":3.77}],
"tcHead":[{"c":"a","t":"Activated Upstream\nRegulator"},{"c":"b","t":"p-value"},{"c":"d","t":"Activation z-score"}],
"tdHead":[{"c":"a","t":"Inhibited Upstream\nRegulator"},{"c":"b","t":"p-value"},{"c":"d","t":"Activation z-score"}],
"tc":[
{"r":1,"c":"a","t":"Lipopolysaccharide"},{"r":1,"c":"b","t":"9.13E-13"},{"r":1,"c":"d","t":"3.128"},
{"r":2,"c":"a","t":"PPARA"},{"r":2,"c":"b","t":"3.62E-12"},{"r":2,"c":"d","t":"2.334"},
{"r":3,"c":"a","t":"Pirinixic acid"},{"r":3,"c":"b","t":"1.63E-09"},{"r":3,"c":"d","t":"3.497"},
{"r":4,"c":"a","t":"AGT"},{"r":4,"c":"b","t":"8.81E-09"},{"r":4,"c":"d","t":"2.531"},
{"r":5,"c":"a","t":"INFG"},{"r":5,"c":"b","t":"1.35E-08"},{"r":5,"c":"d","t":"2.730"}],
"td":[
{"r":1,"c":"a","t":"ZC3H12C"},{"r":1,"c":"b","t":"1.62E-09"},{"r":1,"c":"d","t":"-2.931"},
{"r":2,"c":"a","t":"PIK3CG"},{"r":2,"c":"b","t":"4.07E-09"},{"r":2,"c":"d","t":"-2.967"},
{"r":3,"c":"a","t":"STEAP3"},{"r":3,"c":"b","t":"4.05E-08"},{"r":3,"c":"d","t":"-2.562"},
{"r":4,"c":"a","t":"EGLN"},{"r":4,"c":"b","t":"1.71E-07"},{"r":4,"c":"d","t":"-2.305"}],
"letters":[{"t":"A","x":21,"y":20},{"t":"B","x":497,"y":20},{"t":"C","x":519,"y":358},{"t":"D","x":519,"y":586},{"t":"E","x":135,"y":841}],
"areas":[{"t":"Extracellular Space","x":448,"y":844},{"t":"Plasma Membrane","x":448,"y":1019},{"t":"Cytoplasm","x":428,"y":1218},{"t":"Nucleus","x":423,"y":1645},{"t":"Other","x":1216,"y":843}],
"lines":[{"x":402,"y":834,"x2":1162,"y2":834},{"x":402,"y":1011,"x2":1162,"y2":1011},{"x":402,"y":1209,"x2":1162,"y2":1209},{"x":402,"y":1636,"x2":1162,"y2":1636},{"x":1202,"y":834,"x2":1237,"y2":834},{"x":1202,"y":834,"x2":1202,"y2":1750},{"x":1202,"y":1750,"x2":1237,"y2":1750}],
"nodes":[
{"n":"lipopolysaccharide","k":"O","x":240,"y":1008},
{"n":"ADM","k":"c","x":435,"y":862,"e":0.5},{"n":"TENT5C","k":"D","x":480,"y":865,"e":1},{"n":"ANGPTL4","k":"c","x":542,"y":862,"e":2},{"n":"MIF","k":"S","x":590,"y":860,"e":0.4},{"n":"Apol11b (includes others)","k":"c","x":669,"y":838,"e":2.2},
{"n":"LOX","k":"D","x":759,"y":847,"e":1.5},{"n":"INHBB","k":"S","x":728,"y":875,"e":0.5},{"n":"CCL21","k":"S","x":792,"y":871,"e":-0.3},{"n":"PLA2G5","k":"D","x":830,"y":882,"e":-0.4},{"n":"IGKC","k":"c","x":873,"y":887,"e":-1.2},{"n":"JCHAIN","k":"c","x":858,"y":910,"e":-1},{"n":"PLA2G2D","k":"D","x":907,"y":899,"e":-0.5},{"n":"Hamp/Hamp2","k":"c","x":946,"y":908,"e":-3},{"n":"IL15","k":"S","x":1010,"y":918,"e":-0.3},{"n":"LAMB3","k":"Z","x":1037,"y":868,"e":-0.2},{"n":"LAMB2","k":"D","x":1087,"y":873,"e":-0.5},{"n":"ANGPTL7","k":"c","x":1132,"y":886,"e":-2},{"n":"LAMA5","k":"c","x":1049,"y":899,"e":-0.3},{"n":"VWF","k":"c","x":1049,"y":929,"e":0.6},{"n":"MMP3","k":"W","x":1018,"y":943,"e":1.5},{"n":"MSLN","k":"c","x":1116,"y":921,"e":-1.2},{"n":"HBA1/HBA2*","k":"Z","x":1174,"y":923,"e":1},{"n":"BMP1","k":"W","x":1084,"y":947,"e":-0.2},{"n":"FGF18","k":"S","x":1133,"y":954,"e":0.5},{"n":"FETUB","k":"c","x":1180,"y":958,"e":2},{"n":"BPGM","k":"T","x":1107,"y":974,"e":0.5},{"n":"ELN","k":"c","x":1157,"y":983,"e":0.4},{"n":"Ccl8","k":"S","x":981,"y":963,"e":1.3},{"n":"AGT","k":"S","x":1039,"y":988,"e":1.2},{"n":"SERPINA3","k":"c","x":946,"y":977,"e":0.8},{"n":"CCN2","k":"S","x":921,"y":996,"e":0.3},{"n":"Iigp1","k":"D","x":883,"y":1007,"e":0.5},{"n":"MSR1","k":"E","x":848,"y":1023,"e":0.9},{"n":"IL4R","k":"E","x":816,"y":1042,"e":0.2},{"n":"LGALS3BP","k":"E","x":946,"y":1034,"e":1},{"n":"IRAK2","k":"V","x":901,"y":1047,"e":0.3},{"n":"SIGLEC1","k":"c","x":860,"y":1057,"e":0.4},{"n":"HLA-A*","k":"c","x":905,"y":1077,"e":0.5},{"n":"FCGR3A/FCGR3B","k":"E","x":834,"y":1089,"e":1.6},{"n":"B2M","k":"E","x":894,"y":1111,"e":0.4},{"n":"SLC6A6","k":"Z","x":931,"y":1100,"e":0.3},{"n":"PLIN2","k":"c","x":872,"y":1138,"e":0.4},{"n":"ADORA2A","k":"R","x":914,"y":1156,"e":0.5},{"n":"Cd59a","k":"c","x":825,"y":1147,"e":-0.5},{"n":"AQP1","k":"Z","x":805,"y":1164,"e":-0.3},{"n":"HLA-E","k":"E","x":849,"y":1175,"e":0.3},{"n":"BTNL9","k":"c","x":882,"y":1183,"e":0.8},{"n":"PTGFR","k":"R","x":737,"y":1183,"e":-1.5},{"n":"F3","k":"E","x":776,"y":1185,"e":-0.2},{"n":"Igha","k":"c","x":815,"y":1191,"e":-1.2},
{"n":"ITGB6","k":"c","x":1073,"y":1035,"e":-0.3},{"n":"RET","k":"V","x":1111,"y":1035,"e":-0.3},{"n":"SLC2A4","k":"Z","x":1151,"y":1035,"e":-0.2},{"n":"DRD2","k":"R","x":1184,"y":1039,"e":-0.8},{"n":"SHISA6","k":"c","x":1102,"y":1063,"e":-0.9},{"n":"AIF1L","k":"c","x":1150,"y":1063,"e":-0.7},{"n":"CELSR2","k":"R","x":1083,"y":1100,"e":-0.3},{"n":"L1CAM","k":"c","x":1147,"y":1097,"e":-0.3},{"n":"CELSR3","k":"R","x":1194,"y":1102,"e":-0.8},{"n":"SLC43A2","k":"Z","x":1125,"y":1118,"e":1.1},{"n":"EFHD2","k":"c","x":1035,"y":1139,"e":0.4},{"n":"GP1BB","k":"c","x":1081,"y":1142,"e":3},{"n":"EPS8","k":"W","x":1137,"y":1148,"e":0.3},{"n":"PTPRN","k":"T","x":1173,"y":1136,"e":0.5},{"n":"BDKRB2","k":"R","x":1014,"y":1184,"e":1.7},{"n":"ACKR2","k":"R","x":1063,"y":1181,"e":2.1},{"n":"PTH1R","k":"R","x":1108,"y":1182,"e":0.6},{"n":"Clca3a1/Clca3a2","k":"R","x":1175,"y":1181,"e":1},
{"n":"ZBP1","k":"c","x":993,"y":1231,"e":1},{"n":"NQO1","k":"D","x":766,"y":1237,"e":0.4},{"n":"UCHL1","k":"W","x":810,"y":1234,"e":0.3},{"n":"NLRC5","k":"O","x":966,"y":1250,"e":0.6},{"n":"TUBA4A","k":"c","x":1103,"y":1229,"e":-0.2},{"n":"SAR1A","k":"D","x":1143,"y":1240,"e":-0.4},{"n":"AS3MT","k":"D","x":1184,"y":1237,"e":-0.3},{"n":"PFKFB1","k":"V","x":1109,"y":1261,"e":-0.2},{"n":"BCKDHB","k":"D","x":1165,"y":1273,"e":-0.3},{"n":"Serpina3g (includes others)","k":"c","x":1038,"y":1283,"e":2.7},{"n":"PFKFB3","k":"V","x":744,"y":1277,"e":0.3},{"n":"G0S2","k":"c","x":780,"y":1273,"e":0.4},{"n":"UPP1","k":"D","x":818,"y":1275,"e":1.1},{"n":"UCP2","k":"Z","x":996,"y":1300,"e":0.3},{"n":"MTDH","k":"O","x":765,"y":1302,"e":0.5},{"n":"IRGM","k":"D","x":808,"y":1317,"e":1},{"n":"CES1","k":"D","x":1097,"y":1316,"e":-0.5},{"n":"PHKG1","k":"V","x":1135,"y":1309,"e":-0.3},{"n":"CYP2S1","k":"D","x":1185,"y":1312,"e":-0.7},{"n":"EPHX2","k":"D","x":733,"y":1325,"e":0.3},{"n":"MTTP","k":"Z","x":783,"y":1332,"e":0.4},{"n":"CTSS","k":"W","x":962,"y":1326,"e":0.3},{"n":"MYL4","k":"c","x":1154,"y":1338,"e":-2.5},{"n":"ARPC5","k":"c","x":1114,"y":1348,"e":-0.2},{"n":"Igtp","k":"D","x":1013,"y":1364,"e":0.5},{"n":"ABAT","k":"D","x":1080,"y":1368,"e":-1.5},{"n":"ALDH4A1","k":"D","x":1183,"y":1364,"e":-0.3},{"n":"SCD","k":"D","x":1133,"y":1382,"e":-0.4},{"n":"PFKP","k":"T","x":756,"y":1358,"e":0.3},{"n":"PHLDA1","k":"c","x":796,"y":1362,"e":0.6},{"n":"GBP6*","k":"D","x":965,"y":1377,"e":1.4},{"n":"CYP1A1","k":"D","x":773,"y":1388,"e":1.7},{"n":"DBT","k":"D","x":1104,"y":1393,"e":-0.4},{"n":"COMT","k":"D","x":1065,"y":1410,"e":0.4},{"n":"GSTM1","k":"D","x":1179,"y":1410,"e":-0.5},{"n":"CDC42EP4","k":"c","x":746,"y":1404,"e":0.4},{"n":"CPT1A","k":"D","x":792,"y":1424,"e":0.3},{"n":"TAP1","k":"Z","x":995,"y":1419,"e":0.4},{"n":"D2HGDH","k":"D","x":1145,"y":1422,"e":-0.5},{"n":"mir-208","k":"V","x":744,"y":1433,"e":-1.5},{"n":"HBB*","k":"Z","x":1111,"y":1437,"e":1.3},{"n":"FASN","k":"D","x":778,"y":1453,"e":-0.4},{"n":"SHMT1","k":"D","x":1052,"y":1450,"e":1},{"n":"ALOX5","k":"D","x":719,"y":1455,"e":-0.2},{"n":"PCYT1A","k":"D","x":1193,"y":1455,"e":1.3},{"n":"ST3GAL1","k":"D","x":1087,"y":1466,"e":0.3},{"n":"EEA1","k":"c","x":1151,"y":1460,"e":0.3},{"n":"OXCT1","k":"D","x":755,"y":1469,"e":-0.3},{"n":"DECR1","k":"D","x":1126,"y":1481,"e":0.4},{"n":"DPEP1","k":"W","x":1179,"y":1488,"e":0.4},{"n":"PC","k":"D","x":784,"y":1497,"e":-0.5},{"n":"ACSF2","k":"D","x":1068,"y":1500,"e":0.6},{"n":"Chil3/Chil4","k":"D","x":1014,"y":1512,"e":2.6},{"n":"ZBTB42","k":"O","x":731,"y":1515,"e":-1},{"n":"ACER2","k":"D","x":1104,"y":1513,"e":1.2},{"n":"CYP1B1","k":"D","x":1145,"y":1529,"e":0.8},{"n":"BNIP3","k":"c","x":1183,"y":1529,"e":0.3},{"n":"FABP4","k":"S","x":775,"y":1534,"e":0.4},{"n":"DEPP1","k":"c","x":1073,"y":1546,"e":0.5},{"n":"HMGCS2","k":"D","x":716,"y":1560,"e":2.5},{"n":"FUT2","k":"D","x":755,"y":1568,"e":-0.7},{"n":"LCP1","k":"c","x":1113,"y":1558,"e":0.2},{"n":"SNCA","k":"D","x":1186,"y":1568,"e":0.9},{"n":"PRKG1","k":"V","x":1057,"y":1577,"e":0.3},{"n":"CIDEA","k":"c","x":1104,"y":1583,"e":0.3},{"n":"UBE2L6","k":"D","x":1148,"y":1580,"e":0.7},
{"n":"Tgtp1/Tgtp2*","k":"D","x":316,"y":1485,"e":0.7},{"n":"Nppb","k":"c","x":281,"y":1518,"e":1.1},{"n":"ACTA1","k":"c","x":764,"y":1602,"e":1.5},{"n":"Acot1","k":"D","x":741,"y":1616,"e":1.1},{"n":"MYH7","k":"D","x":865,"y":1602,"e":0.7},{"n":"ALAS2","k":"D","x":933,"y":1606,"e":1.4},{"n":"PTK2B","k":"V","x":1030,"y":1602,"e":0.4},{"n":"HSD11B1","k":"D","x":1080,"y":1609,"e":0.5},{"n":"ASNS","k":"D","x":1173,"y":1611,"e":1.2},{"n":"PDK1","k":"V","x":1129,"y":1620,"e":0.3},{"n":"HK2","k":"V","x":707,"y":1607,"e":-0.3},{"n":"ACTA2","k":"c","x":645,"y":1617,"e":-0.2},{"n":"RGS7","k":"D","x":680,"y":1627,"e":-0.5},
{"n":"CUX2","k":"O","x":474,"y":1663,"e":-0.3},{"n":"Firre","k":"c","x":437,"y":1673,"e":-0.2},{"n":"BCL6","k":"O","x":462,"y":1701,"e":-0.5},{"n":"DUSP4","k":"T","x":554,"y":1653,"e":1.4},{"n":"ETV5","k":"O","x":597,"y":1672,"e":0.8},{"n":"RESF1","k":"c","x":641,"y":1667,"e":1},{"n":"KLF2","k":"O","x":549,"y":1687,"e":0.5},{"n":"SMAD7","k":"O","x":679,"y":1685,"e":0.6},{"n":"SMAD2","k":"O","x":518,"y":1715,"e":0.6},{"n":"PPARG","k":"Q","x":573,"y":1738,"e":0.4},{"n":"IRF7","k":"O","x":669,"y":1750,"e":1.1},{"n":"STAT1","k":"O","x":763,"y":1702,"e":0.3},{"n":"TACC2","k":"c","x":904,"y":1653,"e":0.3},{"n":"H1-2","k":"c","x":990,"y":1651,"e":0.3},{"n":"E2F2","k":"O","x":1058,"y":1656,"e":1.4},{"n":"GADD45G","k":"c","x":947,"y":1667,"e":1},{"n":"Cdkn1c","k":"c","x":866,"y":1669,"e":-0.2},{"n":"ETS1","k":"O","x":1011,"y":1678,"e":0.4},{"n":"Gvin1 (includes others)*","k":"c","x":1109,"y":1683,"e":1.3},{"n":"WWTR1","k":"O","x":894,"y":1689,"e":0.6},{"n":"SMAD6","k":"O","x":955,"y":1700,"e":0.9}
],
"edges":[
{"h":"L","t":"ADM","k":"o"},{"h":"L","t":"TENT5C","k":"o"},{"h":"L","t":"ANGPTL4","k":"o"},{"h":"L","t":"MIF","k":"o"},{"h":"L","t":"Apol11b (includes others)","k":"o"},{"h":"L","t":"LOX","k":"o"},{"h":"L","t":"INHBB","k":"o"},{"h":"L","t":"Ccl8","k":"o"},{"h":"L","t":"MMP3","k":"o"},{"h":"L","t":"AGT","k":"o"},{"h":"L","t":"SERPINA3","k":"o"},{"h":"L","t":"CCN2","k":"o"},{"h":"L","t":"Iigp1","k":"o"},{"h":"L","t":"MSR1","k":"o"},{"h":"L","t":"IL4R","k":"o"},{"h":"L","t":"LGALS3BP","k":"o"},{"h":"L","t":"IRAK2","k":"o"},{"h":"L","t":"SIGLEC1","k":"o"},{"h":"L","t":"HLA-A*","k":"o"},{"h":"L","t":"FCGR3A/FCGR3B","k":"o"},{"h":"L","t":"B2M","k":"o"},{"h":"L","t":"SLC6A6","k":"o"},{"h":"L","t":"PLIN2","k":"o"},{"h":"L","t":"ADORA2A","k":"o"},{"h":"L","t":"HLA-E","k":"o"},{"h":"L","t":"BTNL9","k":"o"},{"h":"L","t":"ZBP1","k":"o"},{"h":"L","t":"NQO1","k":"o"},{"h":"L","t":"UCHL1","k":"o"},{"h":"L","t":"NLRC5","k":"o"},{"h":"L","t":"Serpina3g (includes others)","k":"o"},{"h":"L","t":"PFKFB3","k":"o"},{"h":"L","t":"G0S2","k":"o"},{"h":"L","t":"UPP1","k":"o"},{"h":"L","t":"UCP2","k":"o"},{"h":"L","t":"MTDH","k":"o"},{"h":"L","t":"IRGM","k":"o"},{"h":"L","t":"EPHX2","k":"o"},{"h":"L","t":"MTTP","k":"o"},{"h":"L","t":"CTSS","k":"o"},{"h":"L","t":"Igtp","k":"o"},{"h":"L","t":"PFKP","k":"o"},{"h":"L","t":"PHLDA1","k":"o"},{"h":"L","t":"GBP6*","k":"o"},{"h":"L","t":"TAP1","k":"o"},{"h":"L","t":"Chil3/Chil4","k":"o"},{"h":"L","t":"DUSP4","k":"o"},{"h":"L","t":"ETV5","k":"o"},{"h":"L","t":"RESF1","k":"o"},{"h":"L","t":"IRF7","k":"o"},{"h":"L","t":"STAT1","k":"o"},{"h":"L","t":"ACTA1","k":"o"},{"h":"L","t":"Nppb","k":"o"},{"h":"L","t":"Tgtp1/Tgtp2*","k":"o"},
{"h":"L","t":"CCL21","k":"y"},{"h":"L","t":"PLA2G5","k":"y"},{"h":"L","t":"IGKC","k":"y"},{"h":"L","t":"JCHAIN","k":"y"},{"h":"L","t":"PLA2G2D","k":"y"},{"h":"L","t":"Hamp/Hamp2","k":"y"},{"h":"L","t":"IL15","k":"y"},{"h":"L","t":"PTGFR","k":"y"},{"h":"L","t":"F3","k":"y"},{"h":"L","t":"Igha","k":"y"},{"h":"L","t":"ACTA2","k":"y"},{"h":"L","t":"RGS7","k":"y"},{"h":"L","t":"HK2","k":"y"},{"h":"L","t":"MYH7","k":"y"},{"h":"L","t":"Firre","k":"y"},{"h":"L","t":"CUX2","k":"y"},{"h":"L","t":"BCL6","k":"y"},{"h":"L","t":"SMAD2","k":"y"},{"h":"L","t":"KLF2","k":"y"},{"h":"L","t":"PPARG","k":"y"},{"h":"L","t":"SMAD7","k":"y"},{"h":"L","t":"Acot1","k":"y"},
{"h":"L","t":"Cd59a","k":"b"},{"h":"L","t":"mir-208","k":"b"},{"h":"L","t":"CDC42EP4","k":"b"},{"h":"L","t":"ALOX5","k":"b"},{"h":"L","t":"OXCT1","k":"b"},{"h":"L","t":"PC","k":"b"},
{"h":"L","t":"AQP1","k":"g"},{"h":"L","t":"CYP1A1","k":"g"},{"h":"L","t":"CPT1A","k":"g"},{"h":"L","t":"ZBTB42","k":"g"},{"h":"L","t":"FABP4","k":"g"},{"h":"L","t":"HMGCS2","k":"g"},{"h":"L","t":"FUT2","k":"g"},{"h":"L","t":"FASN","k":"g"},
{"h":"S","t":"PLIN2","k":"o"},{"h":"S","t":"BTNL9","k":"o"},{"h":"S","t":"HLA-E","k":"o"},{"h":"S","t":"CCN2","k":"o"},{"h":"S","t":"SERPINA3","k":"o"},{"h":"S","t":"MMP3","k":"o"},{"h":"S","t":"VWF","k":"o"},{"h":"S","t":"NLRC5","k":"o"},{"h":"S","t":"Serpina3g (includes others)","k":"o"},{"h":"S","t":"UCP2","k":"o"},{"h":"S","t":"CTSS","k":"o"},{"h":"S","t":"Igtp","k":"o"},{"h":"S","t":"GBP6*","k":"o"},{"h":"S","t":"TAP1","k":"o"},{"h":"S","t":"SMAD7","k":"o"},{"h":"S","t":"PPARG","k":"o"},{"h":"S","t":"IRF7","k":"o"},{"h":"S","t":"Tgtp1/Tgtp2*","k":"o"},{"h":"S","t":"ZBP1","k":"g"},{"h":"S","t":"Iigp1","k":"g"},{"h":"S","t":"AGT","k":"g"},{"h":"S","t":"IL15","k":"y"},{"h":"S","t":"BCL6","k":"y"},{"h":"S","t":"Chil3/Chil4","k":"Y"},{"h":"S","t":"MYH7","k":"Y"},{"h":"S","t":"ALAS2","k":"Y"},{"h":"S","t":"Nppb","k":"Y"},{"h":"S","t":"SMAD2","k":"Y"}
]
},
"layer":[
{"layer":[
 {"data":{"name":"heat"},"mark":{"type":"rect","stroke":"#9a9a9a","strokeWidth":0.6},
  "encoding":{
   "x":{"field":"c","type":"ordinal","scale":{"type":"band","range":[83,413],"paddingInner":0,"paddingOuter":0},"axis":{"orient":"top","offset":-32,"title":null,"domain":false,"ticks":false,"labelAngle":0,"labelPadding":3,"labelFont":"Liberation Serif","labelFontSize":12,"labelColor":"#444","labelExpr":"datum.value<=4?'WT':'POLG'"}},
   "y":{"field":"r","type":"ordinal","scale":{"type":"band","range":[32,773],"paddingInner":0,"paddingOuter":0},"axis":null},
   "fill":{"field":"v","type":"quantitative","scale":{"domain":[-1.5,-1,-0.5,0,0.5,1,1.5,2,2.42],"range":["#2f66c4","#72aadf","#b4dcf4","#ffffff","#fffbc4","#fff08e","#fdb162","#f8703a","#e8241c"]},"legend":{"orient":"none","legendX":41,"legendY":34,"title":null,"direction":"vertical","gradientLength":198,"gradientThickness":12,"gradientStrokeWidth":0,"values":[2,1,0,-1],"labelFontSize":7,"labelColor":"#555","labelOffset":7,"tickCount":4}}
  }}
]},
{"data":{"name":"dendro"},
 "layer":[
  {"mark":{"type":"rule","color":"#333","strokeWidth":0.9},"encoding":{"x":{"field":"h","type":"quantitative","scale":{"domain":[0,75],"range":[413,488],"nice":false,"zero":false},"axis":null},"y":{"field":"a","type":"quantitative","scale":{"domain":[0,100],"range":[32,773],"nice":false,"zero":false},"axis":null},"y2":{"field":"b"}}},
  {"mark":{"type":"rule","color":"#333","strokeWidth":0.9},"encoding":{"x":{"field":"h","type":"quantitative","axis":null},"x2":{"field":"p"},"y":{"field":"a","type":"quantitative","axis":null}}},
  {"mark":{"type":"rule","color":"#333","strokeWidth":0.9},"encoding":{"x":{"field":"h","type":"quantitative","axis":null},"x2":{"field":"q"},"y":{"field":"b","type":"quantitative","axis":null}}}
 ]},
{"data":{"name":"paths"},"mark":{"type":"bar","color":"#000"},
 "encoding":{
  "x":{"field":"score","type":"quantitative","scale":{"domain":[0,6],"range":[907,1263],"nice":false},"axis":{"orient":"bottom","offset":-1531.5,"values":[0,2,4,6],"title":"-log(p-value)","titleFontSize":17,"titleFontWeight":"bold","titleColor":"#222","titlePadding":24,"labelAngle":-50,"labelAlign":"center","labelBaseline":"middle","labelPadding":9,"labelFontSize":14,"labelFontWeight":"bold","labelColor":"#222","domainColor":"#000","domainWidth":2,"tickColor":"#000","tickWidth":2,"tickSize":7}},
  "y":{"field":"pathway","type":"nominal","sort":null,"scale":{"type":"band","range":[32,268.5],"paddingInner":0.348,"paddingOuter":0.337},"axis":{"orient":"left","offset":-907,"title":null,"labelFontSize":16.4,"labelFontWeight":"bold","labelColor":"#222","labelLimit":500,"labelPadding":3,"domainColor":"#000","domainWidth":2,"tickColor":"#000","tickWidth":2,"tickSize":7}}
 }},
{"data":{"name":"tcHead"},"layer":[
 {"mark":{"type":"rect","fill":"#000","stroke":"#fff","strokeWidth":1},"encoding":{"x":{"field":"c","type":"nominal","scale":{"type":"band","domain":["a","b","d"],"range":[556,1246],"paddingInner":0,"paddingOuter":0},"axis":null},"y":{"datum":0,"type":"quantitative","scale":{"domain":[0,1],"range":[417,362],"nice":false},"axis":null},"y2":{"datum":1}}},
 {"mark":{"type":"text","font":"Lato","fontSize":18.2,"fontWeight":"bold","color":"#fff","baseline":"top","lineBreak":"\n","lineHeight":23},"encoding":{"x":{"field":"c","type":"nominal","axis":null},"y":{"datum":0.85,"type":"quantitative","axis":null},"text":{"field":"t"}}}
]},
{"data":{"name":"tc"},"mark":{"type":"text","font":"Lato","fontSize":15.5,"color":"#444"},"encoding":{"x":{"field":"c","type":"nominal","scale":{"type":"band","domain":["a","b","d"],"range":[556,1246],"paddingInner":0,"paddingOuter":0},"axis":null},"y":{"field":"r","type":"ordinal","scale":{"type":"point","range":[434.7,556.7],"padding":0},"axis":null},"text":{"field":"t"}}},
{"data":{"name":"tdHead"},"layer":[
 {"mark":{"type":"rect","fill":"#000","stroke":"#fff","strokeWidth":1},"encoding":{"x":{"field":"c","type":"nominal","scale":{"type":"band","domain":["a","b","d"],"range":[556,1246],"paddingInner":0,"paddingOuter":0},"axis":null},"y":{"datum":0,"type":"quantitative","scale":{"domain":[0,1],"range":[638,583],"nice":false},"axis":null},"y2":{"datum":1}}},
 {"mark":{"type":"text","font":"Lato","fontSize":18.2,"fontWeight":"bold","color":"#fff","baseline":"top","lineBreak":"\n","lineHeight":23},"encoding":{"x":{"field":"c","type":"nominal","axis":null},"y":{"datum":0.85,"type":"quantitative","axis":null},"text":{"field":"t"}}}
]},
{"data":{"name":"td"},"mark":{"type":"text","font":"Lato","fontSize":15.5,"color":"#444"},"encoding":{"x":{"field":"c","type":"nominal","scale":{"type":"band","domain":["a","b","d"],"range":[556,1246],"paddingInner":0,"paddingOuter":0},"axis":null},"y":{"field":"r","type":"ordinal","scale":{"type":"point","range":[656.7,747.7],"padding":0},"axis":null},"text":{"field":"t"}}},
{"layer":[
 {"data":{"name":"lines"},"mark":{"type":"rule","color":"#b5b5b5","strokeWidth":1.2},"encoding":{"x":{"field":"x","type":"quantitative","scale":{"domain":[0,1328],"range":[0,1328],"nice":false,"zero":false},"axis":null},"y":{"field":"y","type":"quantitative","scale":{"domain":[0,1800],"range":[0,1800],"nice":false,"zero":false},"axis":null},"x2":{"field":"x2"},"y2":{"field":"y2"}}},
 {"data":{"name":"edges"},
  "transform":[
   {"calculate":"datum.h==='L'?240:763","as":"hx"},{"calculate":"datum.h==='L'?1008:1702","as":"hy"},
   {"lookup":"t","from":{"data":{"name":"nodes"},"key":"n","fields":["x","y"]},"as":["tx","ty"]},
   {"calculate":"datum.tx-datum.hx","as":"dx"},{"calculate":"datum.ty-datum.hy","as":"dy"},
   {"calculate":"sqrt(datum.dx*datum.dx+datum.dy*datum.dy)","as":"len"},
   {"calculate":"datum.tx-datum.dx/datum.len*15","as":"ax"},{"calculate":"datum.ty-datum.dy/datum.len*15","as":"ay"},
   {"calculate":"atan2(datum.dx,-datum.dy)*180/PI","as":"ang"}
  ],
  "layer":[
   {"mark":{"type":"rule"},"encoding":{"x":{"field":"hx","type":"quantitative","axis":null},"y":{"field":"hy","type":"quantitative","axis":null},"x2":{"field":"ax"},"y2":{"field":"ay"},
     "stroke":{"field":"k","type":"nominal","scale":{"domain":["o","y","g","b","Y"],"range":["#f26a14","#f7dc0c","#9b9b9b","#2f6fc6","#f7e41c"]},"legend":null},
     "strokeDash":{"field":"h","type":"nominal","scale":{"domain":["L","S"],"range":[[8,5],[1,0]]},"legend":null},
     "size":{"field":"h","type":"ordinal","scale":{"type":"ordinal","domain":["L","S"],"range":[2.2,1.7]},"legend":null}}},
   {"mark":{"type":"point","filled":true,"opacity":1,"strokeWidth":1.6,"size":90},"encoding":{"x":{"field":"ax","type":"quantitative","axis":null},"y":{"field":"ay","type":"quantitative","axis":null},
     "fill":{"field":"k","type":"nominal","scale":{"domain":["o","y","g","b","Y"],"range":["#f26a14","#f7dc0c","#777777","#2f6fc6","#f7e41c"]},"legend":null},
     "stroke":{"field":"k","type":"nominal","legend":null},
     "shape":{"field":"k","type":"nominal","scale":{"domain":["o","y","g","b","Y"],"range":["triangle-up","triangle-up","triangle-up","M-0.7,0L0.7,0","M-0.7,0L0.7,0"]},"legend":null},
     "angle":{"field":"ang","type":"quantitative","scale":null}}}
  ],
  "resolve":{"scale":{"fill":"independent","stroke":"shared"}}},
 {"data":{"name":"nodes"},"transform":[{"filter":"datum.n==='STAT1'"}],"mark":{"type":"point","filled":false,"stroke":"#f26a14","strokeWidth":1.8,"opacity":1,"size":220,"xOffset":-3,"yOffset":-24},"encoding":{"x":{"field":"x","type":"quantitative","axis":null},"y":{"field":"y","type":"quantitative","axis":null}}},
 {"data":{"name":"nodes"},"transform":[{"filter":"datum.n==='lipopolysaccharide'"}],"mark":{"type":"point","filled":true,"fill":"#f06a14","strokeWidth":0,"opacity":1,"size":900,"shape":"M-1,0C-1,-0.276 -0.5523,-0.5 0,-0.5C0.5523,-0.5 1,-0.276 1,0C1,0.276 0.5523,0.5 0,0.5C-0.5523,0.5 -1,0.276 -1,0Z"},"encoding":{"x":{"field":"x","type":"quantitative","axis":null},"y":{"field":"y","type":"quantitative","axis":null}}},
 {"data":{"name":"nodes"},"transform":[{"filter":"isValid(datum.e)"}],"mark":{"type":"point","filled":true,"stroke":"#bdb5b5","strokeWidth":0.8,"opacity":1},"encoding":{"x":{"field":"x","type":"quantitative","axis":null},"y":{"field":"y","type":"quantitative","axis":null},
   "fill":{"field":"e","type":"quantitative","scale":{"domain":[-3,-1,0,1,3],"range":["#4db328","#b8e6a2","#ffffff","#fdc2ca","#f03c56"]},"legend":null},
   "shape":{"field":"k","type":"nominal","scale":{"domain":["c","D","W","E","O","S","R","Q","T","V","Z"],"range":["circle","M0,-1L0.42,0L0,1L-0.42,0Z","M-1,0L0,-0.58L1,0L0,0.58Z","M0,-1C0.2485,-1 0.45,-0.5523 0.45,0C0.45,0.5523 0.2485,1 0,1C-0.2485,1 -0.45,0.5523 -0.45,0C-0.45,-0.5523 -0.2485,-1 0,-1Z","M-1,0C-1,-0.276 -0.5523,-0.5 0,-0.5C0.5523,-0.5 1,-0.276 1,0C1,0.276 0.5523,0.5 0,0.5C-0.5523,0.5 -1,0.276 -1,0Z","square","M-0.47,-1H0.47V1H-0.47Z","M-1,-0.48H1V0.48H-1Z","M0,-1L1,1L-1,1Z","M-1,-1L1,-1L0.3,1L-0.3,1Z","M-0.4,-1L0.4,-1L1,1L-1,1Z"]},"legend":null},
   "size":{"field":"k","type":"nominal","scale":{"type":"ordinal","domain":["c","D","W","E","O","S","R","Q","T","V","Z"],"range":[452,2304,2304,2304,2116,484,2500,2400,576,576,576]},"legend":null}}},
 {"data":{"name":"nodes"},"mark":{"type":"text","font":"Liberation Sans","fontSize":11,"color":"#333"},"encoding":{"x":{"field":"x","type":"quantitative","axis":null},"y":{"field":"y","type":"quantitative","axis":null},"text":{"field":"n"}}},
 {"data":{"name":"areas"},"mark":{"type":"text","font":"Liberation Sans","fontSize":10.5,"color":"#888"},"encoding":{"x":{"field":"x","type":"quantitative","axis":null},"y":{"field":"y","type":"quantitative","axis":null},"text":{"field":"t"}}},
 {"data":{"name":"letters"},"mark":{"type":"text","font":"Liberation Sans","fontSize":35,"color":"#111"},"encoding":{"x":{"field":"x","type":"quantitative","axis":null},"y":{"field":"y","type":"quantitative","axis":null},"text":{"field":"t"}}}
],"resolve":{"scale":{"shape":"independent","size":"independent","fill":"independent","stroke":"independent"}}}
],
"resolve":{"scale":{"x":"independent","y":"independent","fill":"independent","stroke":"independent","shape":"independent","size":"independent"}}}
